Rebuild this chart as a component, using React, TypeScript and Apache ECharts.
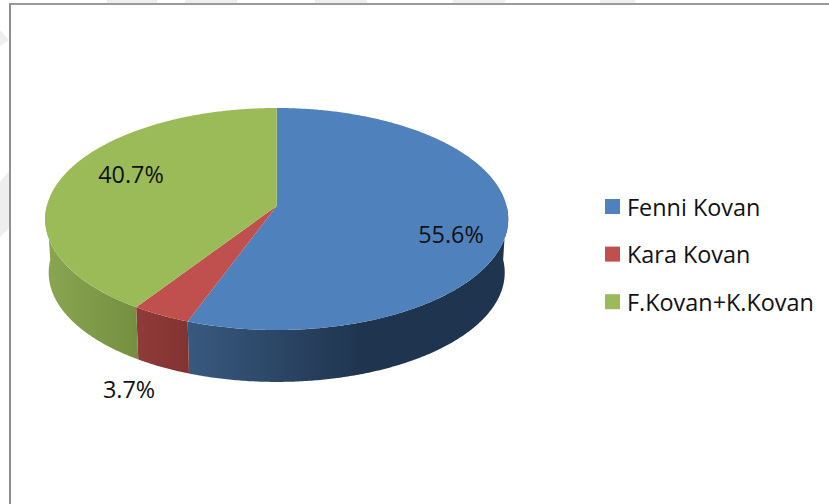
import React, { useEffect, useRef } from "react";
import * as echarts from "echarts";

const categories = ["Fenni Kovan", "Kara Kovan", "F.Kovan+K.Kovan"];
const shares = [55.6, 3.7, 40.7];
const shareLabels = ["55.6%", "3.7%", "40.7%"];

const topColors = ["#4f81bd", "#c0504d", "#9bbb59"];
const wallStops = [
  [[0, "#38597f"], [0.55, "#1f344e"], [1, "#1f344e"]],
  [[0, "#8f3b39"], [1, "#823331"]],
  [[0, "#89a651"], [1, "#758f40"]],
];
const labelAnchors = [[451, 234], [129, 389], [131, 174]];
const watermarkStrips = [[107, 50], [185, 52], [315, 52], [453, 52], [600, 35]];
const watermarkPolys = [
  [[10, 170], [0, 182], [0, 237], [10, 227]],
  [[0, 30], [9, 40], [0, 46]],
];

// Tilted disc: a circle under a slight perspective projection
const CX = 276.7, APEX_Y = 206, TOP_Y = 108, BOTTOM_Y = 330, RX = 231.5;
const UP = APEX_Y - TOP_Y, DOWN = BOTTOM_Y - APEX_Y;
const P = (DOWN - UP) / (DOWN + UP);
const B = UP * (1 + P);
const A = RX * Math.sqrt(1 - P * P);
const MID_Y = (TOP_Y + BOTTOM_Y) / 2;
const WALL_SCALE = 0.985, WALL_DROP = 53.6;

const rad = (d: number) => (d * Math.PI) / 180;
const project = (deg: number) => {
  const u = Math.sin(rad(deg)), v = Math.cos(rad(deg));
  const w = 1 + P * v;
  return [CX + (A * u) / w, APEX_Y - (B * v) / w];
};
const projectLow = (deg: number) => {
  const [x, y] = project(deg);
  return [CX + WALL_SCALE * (x - CX), MID_Y + WALL_SCALE * (y - MID_Y) + WALL_DROP];
};
const arc = (f: (d: number) => number[], a: number, b: number) => {
  const n = Math.max(2, Math.ceil(Math.abs(b - a) * 2));
  const out: number[][] = [];
  for (let i = 0; i <= n; i++) out.push(f(a + ((b - a) * i) / n));
  return out;
};

const total = shares.reduce((s, v) => s + v, 0);
const startAngle = (i: number) => (shares.slice(0, i).reduce((s, v) => s + v, 0) / total) * 360;

export default function App() {
  const ref = useRef<HTMLDivElement>(null);
  useEffect(() => {
    document.body.style.margin = "0";
    const chart = echarts.init(ref.current!, undefined, { renderer: "svg" });
    const font = '400 23.4px "Open Sans", sans-serif';
    chart.setOption({
      animation: false,
      backgroundColor: "#ffffff",
      legend: {
        orient: "vertical",
        left: 600,
        top: 190,
        icon: "rect",
        itemWidth: 15,
        itemHeight: 15,
        itemGap: 24.6,
        selectedMode: false,
        data: categories,
        textStyle: { fontFamily: '"Open Sans", sans-serif', fontSize: 23.4, color: "#111111", padding: [0, 0, 0, 2] },
      },
      graphic: [
        ...watermarkStrips.map(([x, w]) => ({
          type: "rect", silent: true, shape: { x, y: 0, width: w, height: 3 }, style: { fill: "#eeeeee" },
        })),
        ...watermarkPolys.map((points) => ({
          type: "polygon", silent: true, shape: { points }, style: { fill: "#eeeeee" },
        })),
        { type: "rect", silent: true, shape: { x: 9, y: 3, width: 820, height: 2 }, style: { fill: "#9a9a9a" } },
        { type: "rect", silent: true, shape: { x: 9, y: 3, width: 2, height: 501 }, style: { fill: "#8f8f8f" } },
      ],
      series: categories.map((name, i) => ({
        type: "custom",
        name,
        coordinateSystem: "none",
        itemStyle: { color: topColors[i] },
        data: [[shares[i]]],
        renderItem: (_: any, api: any) => {
          const from = startAngle(i);
          const to = from + (api.value(0) / total) * 360;
          const wFrom = Math.max(from, 90);
          const wTo = Math.min(to, 270);
          const wall = [...arc(project, wFrom, wTo), ...arc(projectLow, wTo, wFrom)];
          return {
            type: "group",
            children: [
              {
                type: "polygon",
                shape: { points: wall },
                style: {
                  fill: {
                    type: "linear", x: 0, y: 0, x2: 1, y2: 0,
                    colorStops: wallStops[i].map(([offset, color]) => ({ offset, color })),
                  },
                },
              },
              {
                type: "polygon",
                shape: { points: [[CX, APEX_Y], ...arc(project, from, to)] },
                style: { fill: topColors[i] },
              },
              {
                type: "text",
                style: {
                  x: labelAnchors[i][0],
                  y: labelAnchors[i][1],
                  text: shareLabels[i],
                  font,
                  fill: "#111111",
                  align: "center",
                  verticalAlign: "middle",
                },
              },
            ],
          };
        },
      })),
    });
    return () => chart.dispose();
  }, []);
  return <div ref={ref} style={{ position: "fixed", left: 0, top: 0, width: 829, height: 504 }} />;
}
